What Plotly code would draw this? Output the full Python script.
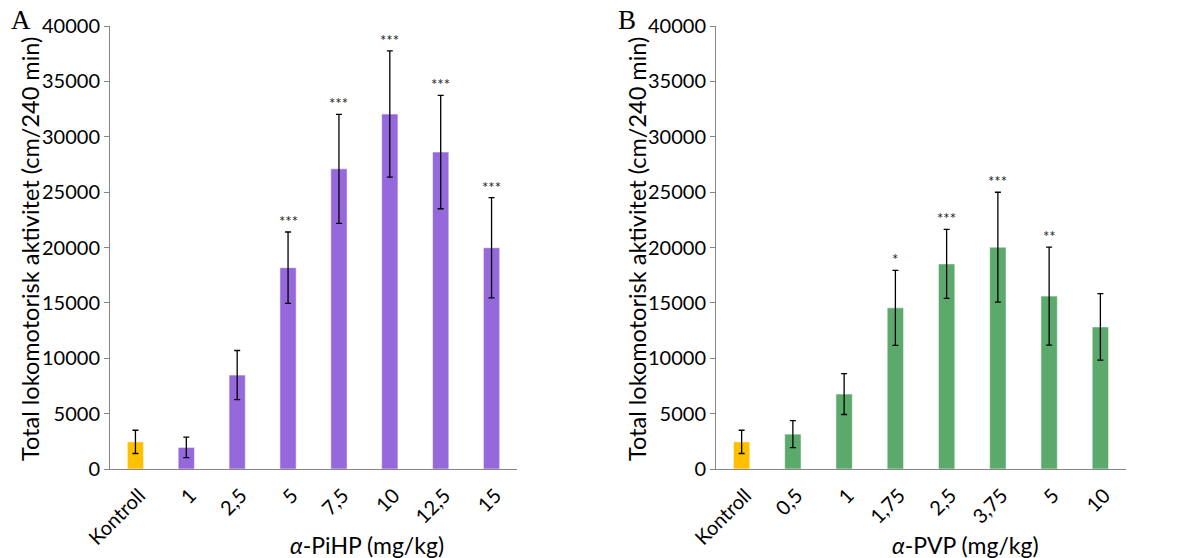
import plotly.graph_objects as go

# ---- data ----
cats_a = ["Kontroll", "1", "2,5", "5", "7,5", "10", "12,5", "15"]
vals_a = [2450, 1950, 8480, 18180, 27100, 32050, 28620, 19980]
err_a = [1050, 920, 2220, 3220, 4920, 5700, 5120, 4520]
stars_a = ["", "", "", "***", "***", "***", "***", "***"]

cats_b = ["Kontroll", "0,5", "1", "1,75", "2,5", "3,75", "5", "10"]
vals_b = [2450, 3150, 6770, 14550, 18520, 20030, 15610, 12830]
err_b = [1050, 1220, 1850, 3380, 3110, 4960, 4420, 3000]
stars_b = ["", "", "", "*", "***", "***", "**", ""]

YELLOW = "#FFC000"
PURPLE = "#9569DB"
GREEN = "#5BAA6B"
AXIS = "#868686"
FONT = "Lato"

colors_a = [YELLOW] + [PURPLE] * (len(cats_a) - 1)
colors_b = [YELLOW] + [GREEN] * (len(cats_b) - 1)

W, H = 1195, 558

fig = go.Figure()

def bar(cats, vals, errs, colors, xa, ya):
    return go.Bar(
        x=cats, y=vals, xaxis=xa, yaxis=ya, width=0.32,
        marker=dict(color=colors, line=dict(color="rgba(255,255,255,0.55)", width=1)),
        error_y=dict(type="data", array=errs, visible=True, color="black",
                     thickness=1.3, width=3),
        showlegend=False, hoverinfo="x+y",
    )

fig.add_trace(bar(cats_a, vals_a, err_a, colors_a, "x", "y"))
fig.add_trace(bar(cats_b, vals_b, err_b, colors_b, "x2", "y2"))

annotations = []
for cats, vals, errs, stars, xr, yr in [
    (cats_a, vals_a, err_a, stars_a, "x", "y"),
    (cats_b, vals_b, err_b, stars_b, "x2", "y2"),
]:
    for i, (v, e, s) in enumerate(zip(vals, errs, stars)):
        if s:
            annotations.append(dict(
                x=i, y=v + e, xref=xr, yref=yr, text=s, showarrow=False,
                yanchor="bottom", yshift=0,
                font=dict(family=FONT, size=15, color="#222222"),
            ))

# domains (pixel-derived)
xa_dom = [110 / W, 517 / W]
xb_dom = [716 / W, 1126 / W]
y_dom = [1 - 469 / H, 1 - 26 / H]

ytitle = "Total lokomotorisk aktivitet (cm/240 min)"
for xc in [30 / W, 637 / W]:
    annotations.append(dict(
        x=xc, y=1 - 249 / H, xref="paper", yref="paper", text=ytitle,
        textangle=-90, showarrow=False, xanchor="center", yanchor="middle",
        font=dict(family=FONT, size=23.5, color="black"),
    ))

annotations.append(dict(
    x=367 / W, y=1 - 545 / H, xref="paper", yref="paper",
    text="<i>α</i>-PiHP (mg/kg)", showarrow=False,
    xanchor="center", yanchor="middle",
    font=dict(family=FONT, size=23, color="black"),
))
annotations.append(dict(
    x=965 / W, y=1 - 545 / H, xref="paper", yref="paper",
    text="<i>α</i>-PVP (mg/kg)", showarrow=False,
    xanchor="center", yanchor="middle",
    font=dict(family=FONT, size=23, color="black"),
))

for lab, xp in [("A", 21), ("B", 627)]:
    annotations.append(dict(
        x=xp / W, y=1 - 20 / H, xref="paper", yref="paper", text=lab,
        showarrow=False, xanchor="center", yanchor="middle",
        font=dict(family="Liberation Serif", size=27, color="black"),
    ))

xcommon = dict(
    type="category", showline=True, linecolor=AXIS, linewidth=1,
    ticks="", showgrid=False, zeroline=False, tickangle=-45,
    ticklabelstandoff=6, ticklabelshift=4,
    tickfont=dict(family=FONT, size=20, color="black"), automargin=False,
)
ycommon = dict(
    range=[0, 40000], dtick=5000, tickformat="d", showline=True,
    linecolor=AXIS, linewidth=1,
    ticks="outside", ticklen=5, tickcolor=AXIS, showgrid=False, zeroline=False,
    tickfont=dict(family=FONT, size=20, color="black"), automargin=False,
)

fig.update_layout(
    width=W, height=H,
    margin=dict(l=0, r=0, t=0, b=0),
    paper_bgcolor="white", plot_bgcolor="white",
    bargap=0.2,
    xaxis=dict(domain=xa_dom, anchor="y", range=[-0.5, 7.5], **xcommon),
    yaxis=dict(domain=y_dom, anchor="x", **ycommon),
    xaxis2=dict(domain=xb_dom, anchor="y2", range=[-0.5, 7.5], **xcommon),
    yaxis2=dict(domain=y_dom, anchor="x2", **ycommon),
    annotations=annotations,
    font=dict(family=FONT),
)

fig.write_html("out.html")
